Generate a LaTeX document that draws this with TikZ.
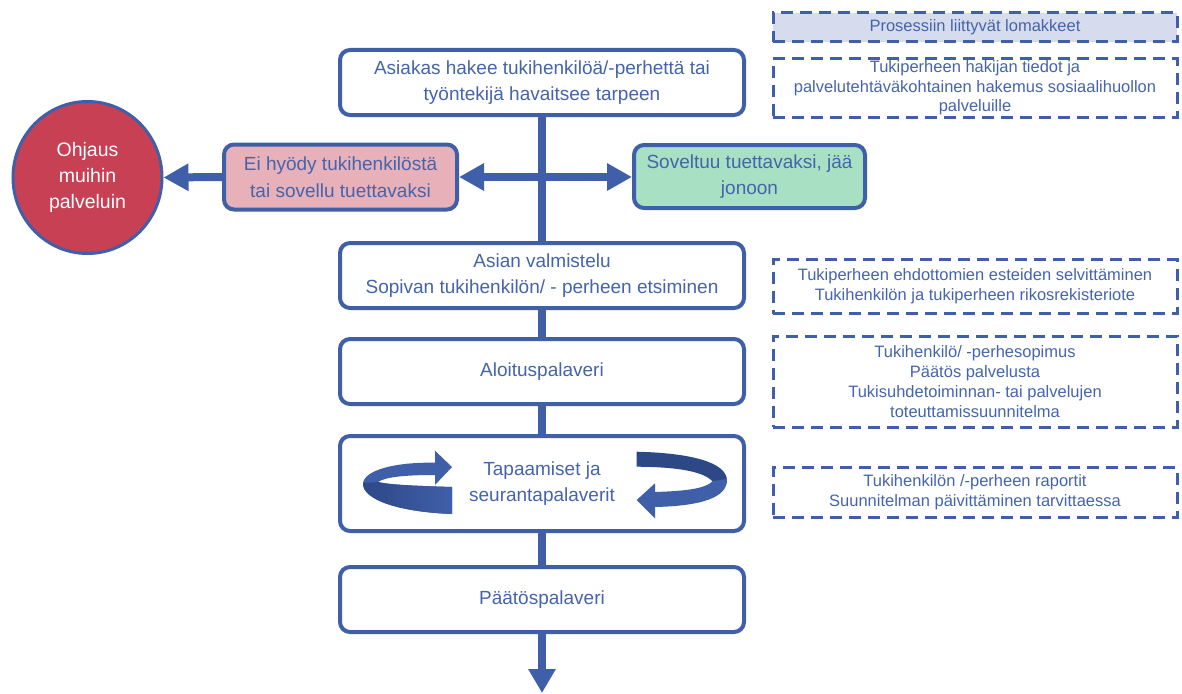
\documentclass[tikz,border=0pt]{standalone}
\usepackage{fontspec}
\setmainfont{Liberation Sans}
\usetikzlibrary{arrows.meta,shapes.geometric}
\definecolor{myblue}{RGB}{63,95,168}
\definecolor{darkblue}{RGB}{45,72,135}
\definecolor{textblue}{RGB}{68,100,172}
\definecolor{pinkfill}{RGB}{232,176,184}
\definecolor{greenfill}{RGB}{168,224,196}
\definecolor{redfill}{RGB}{200,64,84}
\definecolor{headfill}{RGB}{214,220,238}
\tikzset{
  mainbox/.style={draw=myblue, line width=4pt, rounded corners=10pt, fill=white,
    minimum width=404pt, minimum height=65pt, align=center, text=textblue,
    font=\fontsize{19}{26.5}\selectfont, inner sep=0pt},
  formbox/.style={draw=myblue, line width=3pt, dash pattern=on 12pt off 7pt,
    minimum width=404pt, align=center, text=textblue,
    font=\fontsize{16.5}{20}\selectfont, inner sep=0pt},
  trunk/.style={draw=myblue, line width=8pt},
  tip/.style={-{Triangle[width=26pt,length=25pt]}},
}
\begin{document}
\begin{tikzpicture}[x=1pt,y=-1pt]
\useasboundingbox (0,0) rectangle (1182,693);

% main flow boxes
\node[mainbox] (b1) at (542,82.5) {Asiakas hakee tukihenkilöä/-perhettä tai\\työntekijä havaitsee tarpeen};
\node[mainbox] (b2) at (542,275.5) {Asian valmistelu\\Sopivan tukihenkilön/ - perheen etsiminen};
\node[mainbox] (b3) at (542,371.5) {Aloituspalaveri};
\node[mainbox, minimum height=95pt] (b4) at (542,483.5) {Tapaamiset ja\\seurantapalaverit};
\node[mainbox] (b5) at (542,599.5) {Päätöspalaveri};

% side boxes
\node[mainbox, fill=pinkfill, minimum width=233pt] (ei) at (340.5,177) {Ei hyödy tukihenkilöstä\\tai sovellu tuettavaksi};
\node[mainbox, fill=greenfill, minimum width=231pt, minimum height=63pt] (sov) at (749.5,176.5) {Soveltuu tuettavaksi, jää\\jonoon};
\node[ellipse, draw=myblue, line width=3pt, fill=redfill, minimum width=149pt, minimum height=152pt,
  align=center, text=white, font=\fontsize{19.5}{26}\selectfont, inner sep=0pt] (circ) at (87.5,177.5) {Ohjaus\\muihin\\palveluin};

% connectors
\coordinate (end) at (542,693);
\draw[trunk] (b1.south) -- (b2.north);
\draw[trunk] (b2.south) -- (b3.north);
\draw[trunk] (b3.south) -- (b4.north);
\draw[trunk] (b4.south) -- (b5.south |- b5.north);
\draw[trunk, -{Triangle[width=26pt,length=24pt]}] (b5.south) -- (end);
\draw[trunk, {Triangle[width=26pt,length=25pt]}-{Triangle[width=26pt,length=25pt]}] (ei.east) -- (ei.east -| sov.west);
\draw[trunk, tip] (ei.west) -- (circ.east);

% forms column
\node[formbox, fill=headfill, minimum height=29pt] (h) at (975,27.5) {Prosessiin liittyvät lomakkeet};
\node[formbox, minimum height=59pt, font=\fontsize{16.5}{19.5}\selectfont] (d1) at (975,88) {Tukiperheen hakijan tiedot ja\\palvelutehtäväkohtainen hakemus sosiaalihuollon\\palveluille};
\node[formbox, minimum height=54pt] (d2) at (975,286.5) {Tukiperheen ehdottomien esteiden selvittäminen\\Tukihenkilön ja tukiperheen rikosrekisteriote};
\node[formbox, minimum height=91pt] (d3) at (975,381.5) {Tukihenkilö/ -perhesopimus\\Päätös palvelusta\\Tukisuhdetoiminnan- tai palvelujen\\toteuttamissuunnitelma};
\node[formbox, minimum height=50pt] (d4) at (975,492.5) {Tukihenkilön /-perheen raportit\\Suunnitelman päivittäminen tarvittaessa};

% circular arrows in b4 (left)
\fill[myblue] (435,462.7) .. controls (395,462) and (365,470) .. (363,483)
  .. controls (362,500) and (400,512) .. (452,514) -- (452,487)
  .. controls (420,486) and (390,485) .. (378,482)
  .. controls (385,477) and (405,475) .. (435,475) -- cycle;
\shade[left color=darkblue, right color=myblue] (363,483)
  .. controls (362,500) and (400,512) .. (452,514) -- (452,487)
  .. controls (420,486) and (390,485) .. (378,482) -- cycle;
\fill[myblue] (435,450.7) -- (452,467) -- (435,485) -- cycle;

% circular arrows in b4 (right)
\fill[darkblue] (636.7,451.7) .. controls (690,453) and (726,462) .. (727,480)
  -- (713,482) .. controls (705,472) and (680,467) .. (636.7,466.7) -- cycle;
\fill[myblue] (727,479) .. controls (728,498) and (700,506) .. (655,507)
  -- (655,492) .. controls (685,491) and (705,489) .. (713,481) -- cycle;
\fill[myblue] (655,483.3) -- (636.7,500) -- (655,518.3) -- cycle;
\end{tikzpicture}
\end{document}
